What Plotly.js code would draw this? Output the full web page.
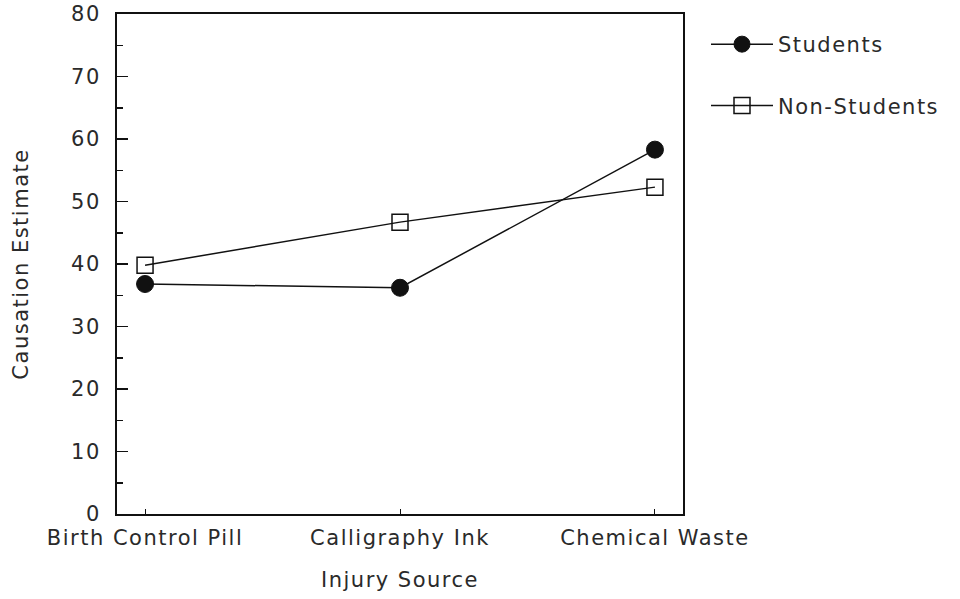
<!DOCTYPE html>
<html>
<head>
<meta charset="utf-8">
<script src="https://cdn.plot.ly/plotly-3.0.1.min.js"></script>
<style>html,body{margin:0;padding:0;background:#fff;}#chart{width:960px;height:599px;} text{letter-spacing:1.5px;}</style>
</head>
<body>
<div id="chart"></div>
<script>
const categories = ["Birth Control Pill", "Calligraphy Ink", "Chemical Waste"];
const students = [36.8, 36.2, 58.3];
const nonStudents = [39.8, 46.7, 52.3];
const yTickVals = [0, 10, 20, 30, 40, 50, 60, 70, 80];

const ink = "#111";
const txt = "#2a2a2a";
const fontFam = "DejaVu Sans, sans-serif";
const fs = 21;

const traces = [
  {
    x: categories, y: students, name: "Students", type: "scatter", mode: "lines+markers",
    legendgroup: "a",
    line: {color: ink, width: 1.5},
    marker: {symbol: "circle", size: 17, color: ink, line: {color: ink, width: 1}}
  },
  {
    x: categories, y: nonStudents, name: "Non-Students", type: "scatter", mode: "lines+markers",
    legendgroup: "b",
    line: {color: ink, width: 1.5},
    marker: {symbol: "square-open", size: 16, color: ink, line: {color: ink, width: 1.5}}
  }
];

const layout = {
  width: 960, height: 599,
  margin: {l: 117, r: 277, t: 14, b: 85},
  paper_bgcolor: "#fff", plot_bgcolor: "#fff",
  font: {family: fontFam, size: fs, color: txt},
  showlegend: true,
  legend: {
    x: (706 - 117) / 566, xanchor: "left",
    y: 0.98, yanchor: "top",
    itemwidth: 62, tracegroupgap: 31,
    font: {family: fontFam, size: fs, color: txt},
    bgcolor: "rgba(0,0,0,0)"
  },
  xaxis: {
    type: "category",
    range: [-0.11, 2.11],
    showgrid: false, zeroline: false,
    showline: true, linecolor: ink, linewidth: 2, mirror: true,
    ticks: "inside", ticklen: 5, tickwidth: 1, tickcolor: ink,
    ticklabelstandoff: 4,
    tickangle: 0,
    tickfont: {family: fontFam, size: fs, color: txt},
    title: {text: "Injury Source", font: {family: fontFam, size: fs, color: txt}, standoff: 23}
  },
  yaxis: {
    range: [0, 80],
    tickvals: yTickVals,
    showgrid: false, zeroline: false,
    showline: true, linecolor: ink, linewidth: 2, mirror: true,
    ticks: "inside", ticklen: 11, tickwidth: 1.5, tickcolor: ink,
    minor: {dtick: 5, ticks: "inside", ticklen: 6, tickwidth: 1.5, tickcolor: ink, showgrid: false},
    ticklabelstandoff: 10,
    tickfont: {family: fontFam, size: fs, color: txt},
    title: {text: "Causation Estimate", font: {family: fontFam, size: fs, color: txt}, standoff: 37}
  }
};

Plotly.newPlot("chart", traces, layout, {displayModeBar: false, staticPlot: true});
</script>
</body>
</html>
